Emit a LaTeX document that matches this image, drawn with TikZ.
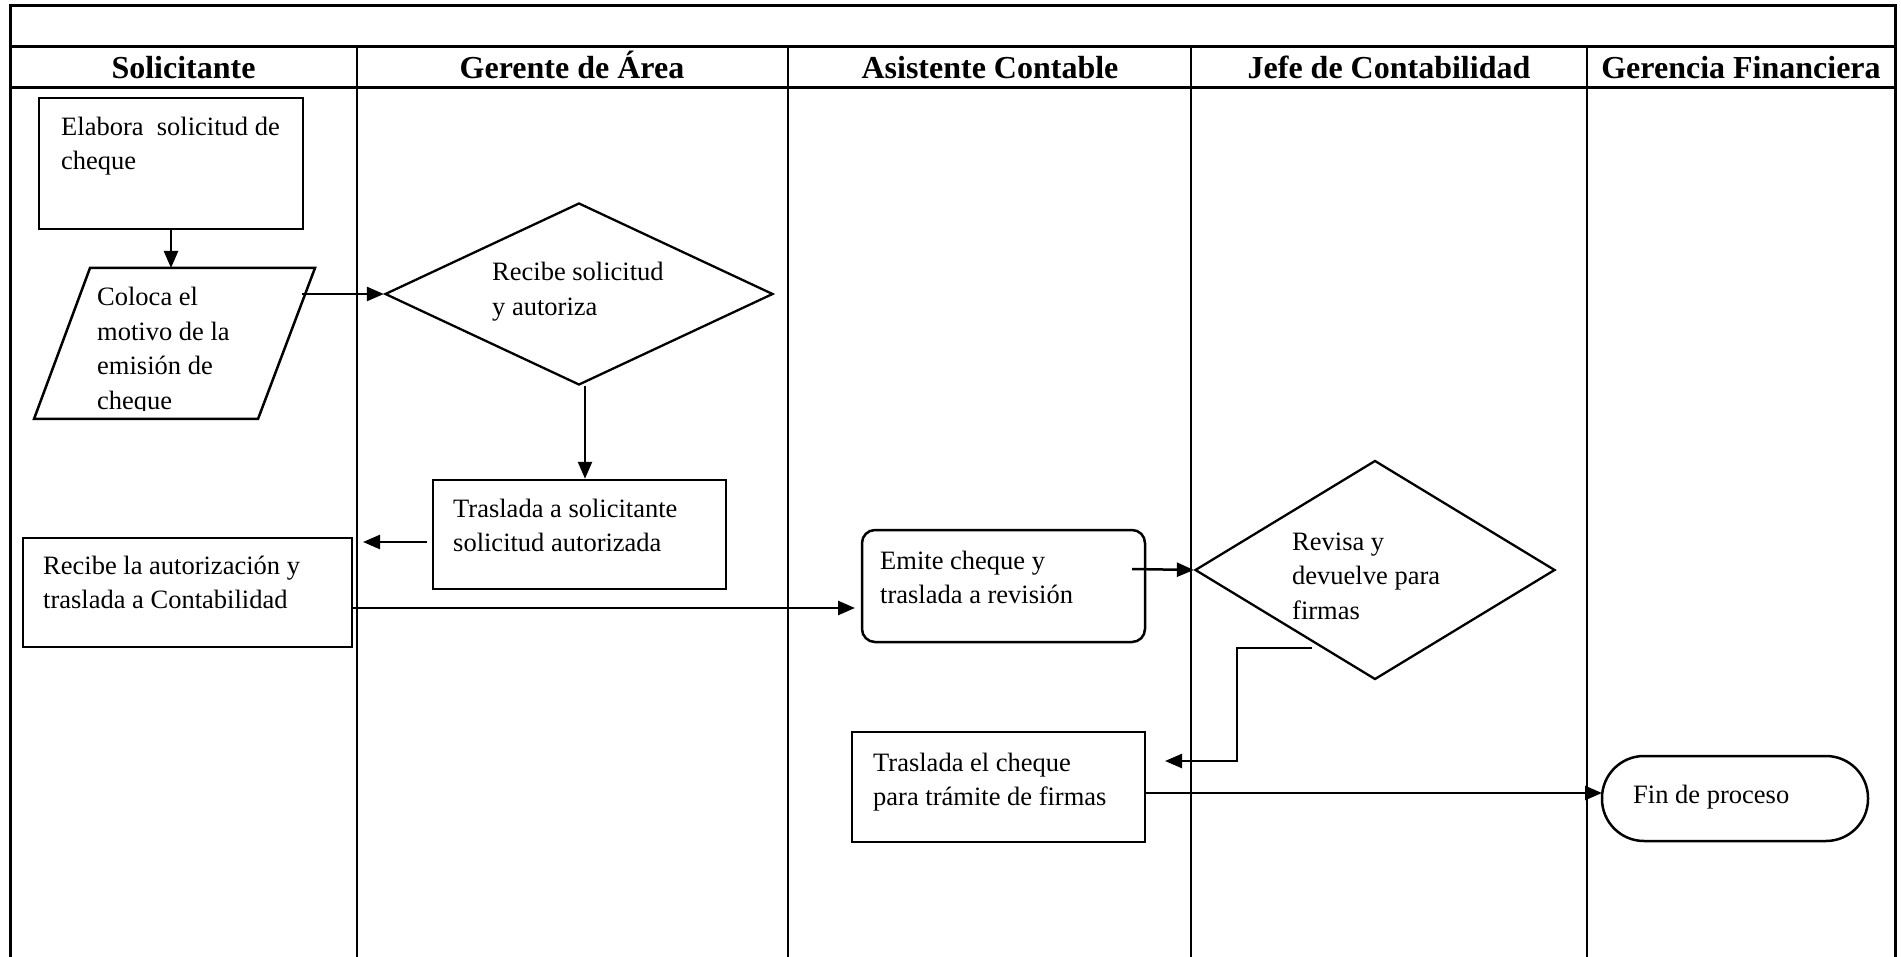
\documentclass[tikz,border=0pt]{standalone}
\usepackage{fontspec}
\setmainfont{Liberation Serif}
\usetikzlibrary{arrows.meta,shapes.geometric,calc}
\begin{document}
\begin{tikzpicture}[x=1pt,y=-1pt,
  frame/.style={line width=3pt},
  lane/.style={line width=2.3pt},
  box/.style={draw,line width=2.5pt,rectangle,inner sep=0pt},
  shp/.style={draw,line width=2.5pt,line join=miter},
  arr/.style={line width=2.5pt,-{Triangle[length=17pt,width=14pt]}},
  txt/.style={anchor=base west,inner sep=0pt,align=left,font=\fontsize{26.5}{34.5}\selectfont},
  hdr/.style={anchor=base,inner sep=0pt,font=\fontsize{32}{36}\selectfont\bfseries},
]
\useasboundingbox (0,0) rectangle (1901,957);
% frame and lanes
\draw[frame] (10,965) -- (10,6) -- (1895,6) -- (1895,965);
\draw[frame] (10,47) -- (1895,47);
\draw[frame] (10,88) -- (1895,88);
\foreach \x in {357,788,1191,1587} \draw[lane] (\x,47) -- (\x,965);
% headers
\node[hdr] (h1) at (183.5,79) {Solicitante};
\node[hdr] (h2) at (572,79) {Gerente de Área};
\node[hdr] (h3) at (990,79) {Asistente Contable};
\node[hdr] (h4) at (1389,79) {Jefe de Contabilidad};
\node[hdr] (h5) at (1741,79) {Gerencia Financiera};
% shapes
\node[box,minimum width=264pt,minimum height=131pt] (n1) at (171,163.5) {};
\coordinate (n2nw) at (90,268);
\coordinate (n2ne) at (315,268);
\coordinate (n2se) at (258,419);
\coordinate (n2sw) at (34,419);
\draw[shp] (n2nw) -- (n2ne) -- (n2se) -- (n2sw) -- cycle;
\node[draw,line width=2.3pt,diamond,minimum width=388pt,minimum height=182pt,inner sep=0pt] (d1) at (579,294) {};
\node[box,minimum width=293pt,minimum height=109pt] (n3) at (579.5,534.5) {};
\node[box,minimum width=329pt,minimum height=109pt] (n4) at (187.5,592.5) {};
\node[box,rounded corners=13pt,minimum width=283pt,minimum height=112pt] (n5) at (1003.5,586) {};
\node[draw,line width=2.3pt,diamond,minimum width=360pt,minimum height=219pt,inner sep=0pt] (d2) at (1375,570) {};
\node[box,minimum width=293pt,minimum height=110pt] (n6) at (998.5,787) {};
\node[box,rounded corners=42pt,minimum width=266pt,minimum height=85pt] (n7) at (1735,798.5) {};
% texts (anchor = baseline of last line)
\node[txt] (t1) at (61,170) {Elabora~ solicitud de\\cheque};
\begin{scope}
\clip (0,0) rectangle (400,411);
\node[txt] (t2) at (97,409.5) {Coloca el\\motivo de la\\emisión de\\cheque};
\end{scope}
\node[txt] (t3) at (492,315.5) {Recibe solicitud\\y autoriza};
\node[txt] (t4) at (453,551.5) {Traslada a solicitante\\solicitud autorizada};
\node[txt] (t5) at (43,608.5) {Recibe la autorización y\\traslada a Contabilidad};
\node[txt] (t6) at (880,603.5) {Emite cheque y\\traslada a revisión};
\node[txt] (t7) at (1292,619) {Revisa y\\devuelve para\\firmas};
\node[txt] (t8) at (873,805.5) {Traslada el cheque\\para trámite de firmas};
\node[txt] (t9) at (1633,803) {Fin de proceso};
% connector coordinates
\coordinate (c0) at (171,268);
\coordinate (c1) at (302,294);
\coordinate (c2) at (427,542);
\coordinate (c3) at (363,542);
\coordinate (c4) at (352,608);
\coordinate (c5) at (855,608);
\coordinate (c6) at (1132,569);
\coordinate (c7) at (1312,648);
\coordinate (c8) at (1237,648);
\coordinate (c9) at (1237,761);
\coordinate (c10) at (1165,761);
\coordinate (c11) at (1145,793);
\coordinate (c12) at (1602,793);
% connectors
\draw[arr] (n1.south) -- (c0);
\draw[arr] (c1) -- (d1.west);
\draw[arr] ([xshift=6pt]d1.south) -- ([xshift=6pt]d1.south |- n3.north);
\draw[arr] (c2) -- (c3);
\draw[arr] (c4) -- (c5);
\draw[arr] (c6) -- (d2.west);
\draw[arr] (c7) -- (c8) -- (c9) -- (c10);
\draw[arr] (c11) -- (c12);
\end{tikzpicture}
\end{document}
